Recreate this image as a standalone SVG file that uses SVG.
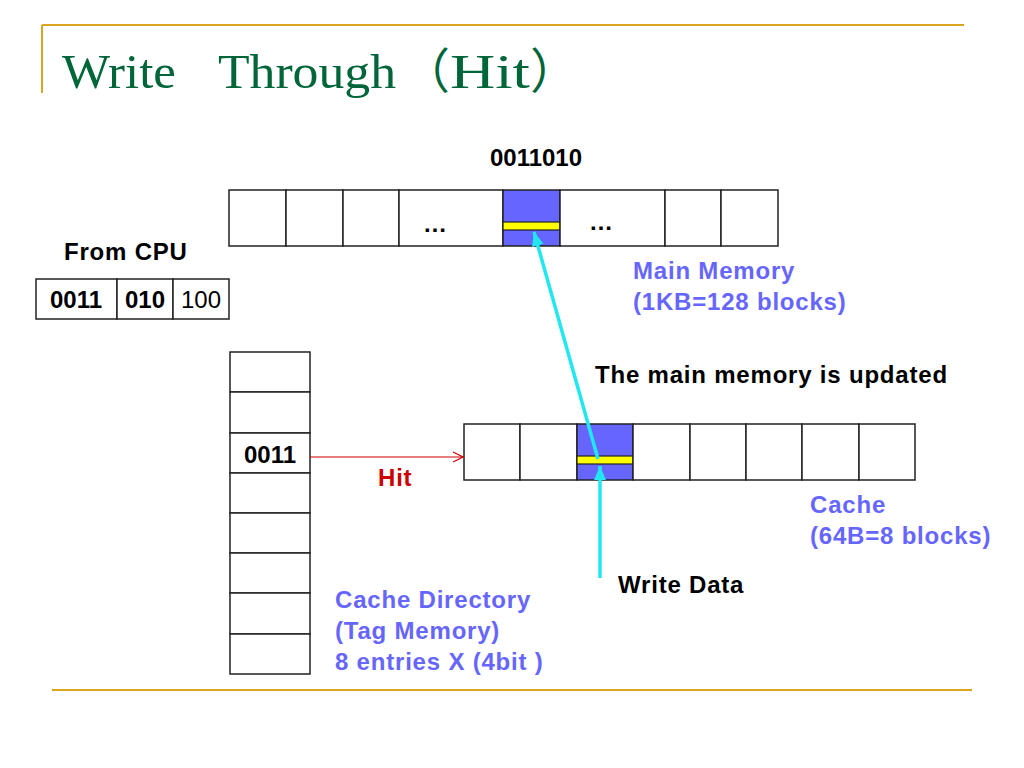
<svg xmlns="http://www.w3.org/2000/svg" width="1024" height="768" viewBox="0 0 1024 768">
<defs>
<style>
.gold{stroke:#D9A521;stroke-width:2;fill:none}
.title{font-family:"Liberation Serif","Noto Sans CJK SC",serif;font-size:48px;fill:#00663A}
.cell{fill:#fff;stroke:#222;stroke-width:1.5}
.hot{fill:#6666FF;stroke:#222;stroke-width:1.5}
.bar{fill:#FFFF00;stroke:#222;stroke-width:1.2}
.lbl{font-family:"Liberation Sans",Arial,sans-serif;font-size:24px;font-weight:bold;fill:#000;letter-spacing:0.8px}
.dig{font-family:"Liberation Sans",Arial,sans-serif;font-size:24px;font-weight:bold;fill:#000}
.num{font-family:"Liberation Sans",Arial,sans-serif;font-size:24px;fill:#000}
.blue{font-family:"Liberation Sans",Arial,sans-serif;font-size:24px;font-weight:bold;fill:#6666FF;letter-spacing:0.8px}
.red{font-family:"Liberation Sans",Arial,sans-serif;font-size:24px;font-weight:bold;fill:#CC0000;letter-spacing:0.8px}
.cyan{stroke:#22E6F0;stroke-width:3.5;fill:none}
</style>
<marker id="redArrow" markerWidth="12" markerHeight="12" refX="11" refY="6" orient="auto" markerUnits="userSpaceOnUse">
<path d="M1,1 L11,6 L1,11" fill="none" stroke="#CC0000" stroke-width="1.2"/>
</marker>
<marker id="cyanArrow" markerWidth="16" markerHeight="16" refX="14" refY="8" orient="auto" markerUnits="userSpaceOnUse">
<path d="M0,2 L14,8 L0,14 Z" fill="#22E6F0"/>
</marker>
</defs>
<rect width="1024" height="768" fill="#fff"/>
<g id="frame">
<line class="gold" x1="42" y1="25" x2="964" y2="25"/>
<line class="gold" x1="42" y1="25" x2="42" y2="93"/>
<line class="gold" x1="52" y1="690" x2="972" y2="690"/>
</g>
<g id="title">
<text class="title" x="62" y="88" textLength="114" lengthAdjust="spacingAndGlyphs">Write</text>
<text class="title" x="218" y="88" textLength="178" lengthAdjust="spacingAndGlyphs">Through</text>
<text class="title" x="402" y="88">（</text>
<text class="title" x="450" y="88" textLength="80" lengthAdjust="spacingAndGlyphs">Hit</text>
<text class="title" x="530" y="88">）</text>
</g>
<g id="main-memory">
<text class="dig" x="536" y="166" text-anchor="middle">0011010</text>
<rect class="cell" x="229" y="190" width="57" height="56"/>
<rect class="cell" x="286" y="190" width="57" height="56"/>
<rect class="cell" x="343" y="190" width="56" height="56"/>
<rect class="cell" x="399" y="190" width="104" height="56"/>
<rect class="hot" x="503" y="190" width="57" height="56"/>
<rect class="bar" x="503" y="222" width="57" height="8"/>
<rect class="cell" x="560" y="190" width="105" height="56"/>
<rect class="cell" x="665" y="190" width="56" height="56"/>
<rect class="cell" x="721" y="190" width="57" height="56"/>
<text class="dig" x="435" y="232" text-anchor="middle">…</text>
<text class="dig" x="601" y="230" text-anchor="middle">…</text>
<text class="blue" x="633" y="279">Main Memory</text>
<text class="blue" x="633" y="310">(1KB=128 blocks)</text>
</g>
<g id="cpu-address">
<text class="lbl" x="64" y="260">From CPU</text>
<rect class="cell" x="36" y="279" width="81" height="40"/>
<rect class="cell" x="117" y="279" width="56" height="40"/>
<rect class="cell" x="173" y="279" width="56" height="40"/>
<text class="dig" x="76" y="308" text-anchor="middle">0011</text>
<text class="dig" x="145" y="308" text-anchor="middle">010</text>
<text class="num" x="201" y="308" text-anchor="middle">100</text>
</g>
<g id="cache-directory">
<rect class="cell" x="230" y="352" width="80" height="40"/>
<rect class="cell" x="230" y="392" width="80" height="41"/>
<rect class="cell" x="230" y="433" width="80" height="40"/>
<rect class="cell" x="230" y="473" width="80" height="40"/>
<rect class="cell" x="230" y="513" width="80" height="40"/>
<rect class="cell" x="230" y="553" width="80" height="40"/>
<rect class="cell" x="230" y="593" width="80" height="41"/>
<rect class="cell" x="230" y="634" width="80" height="40"/>
<text class="dig" x="270" y="463" text-anchor="middle">0011</text>
<text class="blue" x="335" y="608">Cache Directory</text>
<text class="blue" x="335" y="639">(Tag Memory)</text>
<text class="blue" x="335" y="670">8 entries X (4bit )</text>
</g>
<g id="cache">
<rect class="cell" x="464" y="424" width="56" height="56"/>
<rect class="cell" x="520" y="424" width="57" height="56"/>
<rect class="hot" x="577" y="424" width="56" height="56"/>
<rect class="bar" x="577" y="456" width="56" height="8"/>
<rect class="cell" x="633" y="424" width="57" height="56"/>
<rect class="cell" x="690" y="424" width="56" height="56"/>
<rect class="cell" x="746" y="424" width="56" height="56"/>
<rect class="cell" x="802" y="424" width="57" height="56"/>
<rect class="cell" x="859" y="424" width="56" height="56"/>
<text class="blue" x="810" y="513">Cache</text>
<text class="blue" x="810" y="544">(64B=8 blocks)</text>
</g>
<g id="labels">
<text class="lbl" x="595" y="383">The main memory is updated</text>
<text class="lbl" x="618" y="593">Write Data</text>
<text class="red" x="378" y="486">Hit</text>
</g>
<g id="connectors">
<line x1="310" y1="457" x2="463" y2="457" stroke="#CC0000" stroke-width="1.2" marker-end="url(#redArrow)"/>
<line class="cyan" x1="600" y1="578" x2="600" y2="466" marker-end="url(#cyanArrow)"/>
<line class="cyan" x1="598" y1="459" x2="534" y2="232" marker-end="url(#cyanArrow)"/>
</g>
</svg>
